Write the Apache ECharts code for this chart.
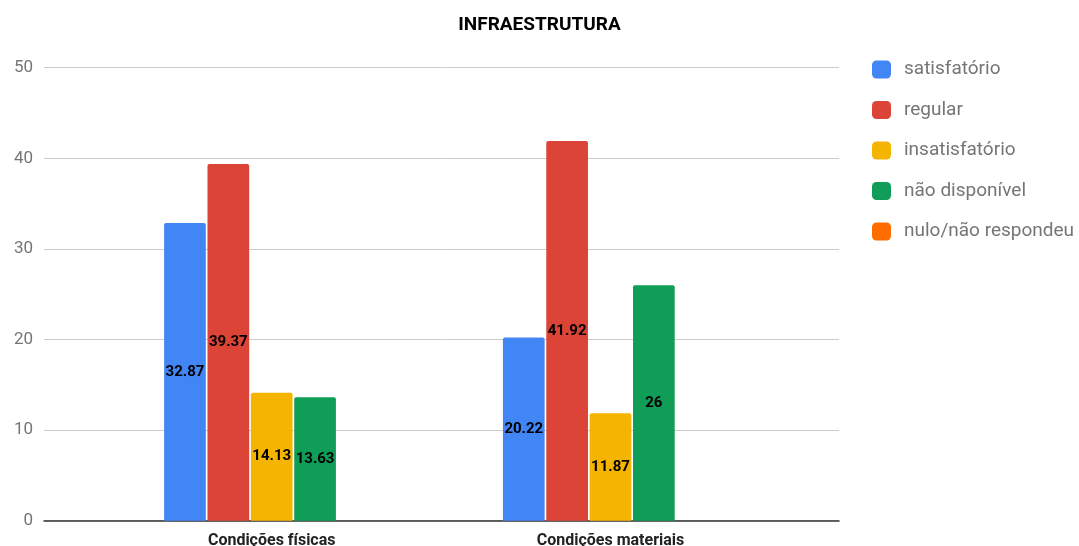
<!DOCTYPE html>
<html>
<head>
<meta charset="utf-8">
<script src="https://cdn.jsdelivr.net/npm/echarts@6/dist/echarts.min.js"></script>
<style>
html,body{margin:0;padding:0;background:#fff;}
#chart{width:1079px;height:546px;}
</style>
</head>
<body>
<div id="chart"></div>
<script>
const categories = ['Condições físicas', 'Condições materiais'];
const seriesNames = ['satisfatório', 'regular', 'insatisfatório', 'não disponível', 'nulo/não respondeu'];
const satisfatorio = [32.87, 20.22];
const regular = [39.37, 41.92];
const insatisfatorio = [14.13, 11.87];
const naoDisponivel = [13.63, 26];
const nuloNaoRespondeu = [null, null];
const yTicks = [0, 10, 20, 30, 40, 50];
const colors = ['#4285F4', '#DB4437', '#F4B400', '#0F9D58', '#FF6D00'];
const values = [satisfatorio, regular, insatisfatorio, naoDisponivel, nuloNaoRespondeu];

const chart = echarts.init(document.getElementById('chart'));
const gridTop = 67.7, gridBottom = 546 - 520.7;
const series = seriesNames.map((name, i) => ({
  name: name,
  type: 'bar',
  xAxisIndex: 1,
  yAxisIndex: 1,
  data: values[i],
  barWidth: 41.7,
  barGap: '4%',
  itemStyle: { color: colors[i], borderRadius: [2, 2, 0, 0] },
  label: {
    show: true,
    position: 'inside',
    color: '#000',
    fontFamily: 'Roboto',
    fontWeight: 'bold',
    fontSize: 15,
    textBorderColor: colors[i],
    textBorderWidth: 2,
    formatter: p => (p.value == null ? '' : String(p.value))
  }
}));

chart.setOption({
  animation: false,
  title: {
    text: 'INFRAESTRUTURA',
    left: 'center',
    top: 11,
    textStyle: { fontFamily: 'Roboto', fontWeight: 'bold', fontSize: 19, color: '#000' }
  },
  legend: {
    orient: 'vertical',
    left: 867,
    top: 55,
    itemWidth: 19,
    itemHeight: 18,
    itemGap: 21.5,
    icon: 'roundRect',
    data: seriesNames,
    textStyle: { fontFamily: 'Roboto', fontSize: 19, color: '#757575', padding: [0, 0, 0, 8] }
  },
  grid: [
    { left: 44, right: 1079 - 839, top: gridTop, bottom: gridBottom, containLabel: false, outerBoundsMode: 'none' },
    { left: 102.3, right: 1079 - 779.9, top: gridTop, bottom: gridBottom, containLabel: false, outerBoundsMode: 'none' }
  ],
  xAxis: [
    {
      type: 'category', gridIndex: 0, data: categories,
      axisLine: { show: true, lineStyle: { color: '#333', width: 1.5 } },
      axisTick: { show: false }, axisLabel: { show: false }
    },
    {
      type: 'category', gridIndex: 1, data: categories,
      axisLine: { show: false }, axisTick: { show: false },
      axisLabel: { fontFamily: 'Roboto', fontWeight: 'bold', fontSize: 16, color: '#222', margin: 12 }
    }
  ],
  yAxis: [
    {
      type: 'value', gridIndex: 0, min: yTicks[0], max: yTicks[yTicks.length - 1], interval: 10,
      axisLine: { show: false }, axisTick: { show: false },
      axisLabel: { fontFamily: 'Roboto', fontSize: 17, color: '#757575', margin: 11 },
      splitLine: { lineStyle: { color: '#cccccc', width: 1 } }
    },
    {
      type: 'value', gridIndex: 1, min: yTicks[0], max: yTicks[yTicks.length - 1], interval: 10,
      show: false, splitLine: { show: false }
    }
  ],
  series: series
});
</script>
</body>
</html>
